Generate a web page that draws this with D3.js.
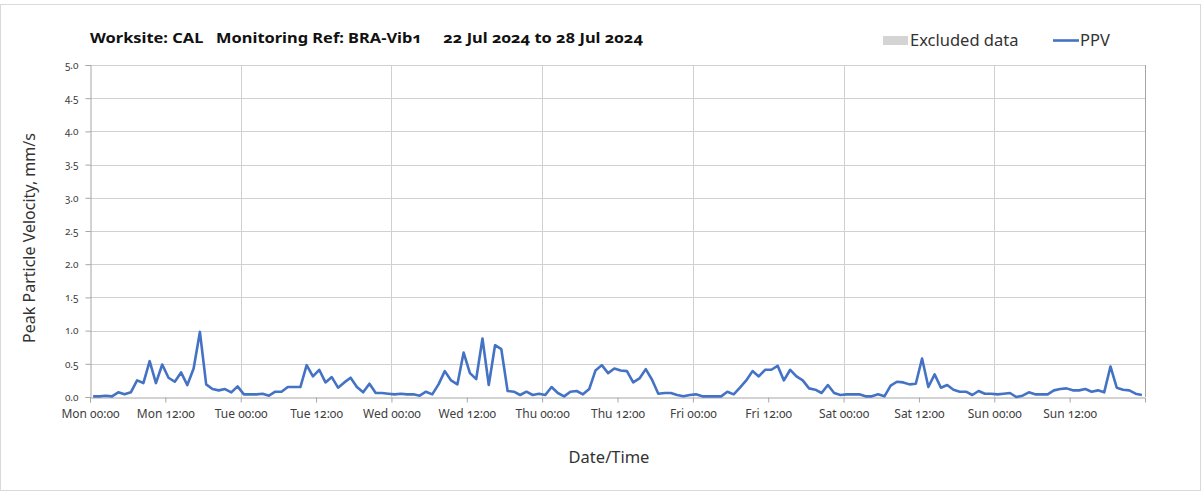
<!DOCTYPE html>
<html>
<head>
<meta charset="utf-8">
<script src="https://cdn.jsdelivr.net/npm/d3@7"></script>
<style>
  html, body { margin: 0; padding: 0; background: #fff; }
  svg { display: block; }
  text { font-family: "Noto Sans", "Open Sans", sans-serif; }
  .num { font-variant-numeric: oldstyle-nums; font-feature-settings: "onum" 1; }
</style>
</head>
<body>
<svg id="chart" width="1203" height="492"></svg>
<script>
// Hourly peak particle velocity (mm/s), Mon 22 Jul 2024 00:00 – Sun 28 Jul 2024 24:00
const ppv = [
  0.01, 0.01, 0.02, 0.01, 0.07, 0.04, 0.07, 0.25, 0.21, 0.54, 0.21, 0.49,
  0.29, 0.23, 0.37, 0.18, 0.43, 0.98, 0.19, 0.12, 0.10, 0.12, 0.07, 0.16,
  0.04, 0.04, 0.04, 0.05, 0.02, 0.08, 0.08, 0.15, 0.15, 0.15, 0.48, 0.31,
  0.41, 0.22, 0.30, 0.14, 0.22, 0.29, 0.15, 0.07, 0.20, 0.06, 0.06, 0.05,
  0.04, 0.05, 0.04, 0.04, 0.02, 0.08, 0.04, 0.19, 0.39, 0.25, 0.19, 0.67,
  0.36, 0.27, 0.88, 0.18, 0.78, 0.72, 0.09, 0.08, 0.03, 0.08, 0.03, 0.05,
  0.03, 0.15, 0.06, 0.01, 0.08, 0.09, 0.04, 0.12, 0.40, 0.48, 0.36, 0.43,
  0.40, 0.39, 0.22, 0.28, 0.42, 0.26, 0.05, 0.06, 0.06, 0.03, 0.01, 0.03,
  0.04, 0.01, 0.01, 0.01, 0.01, 0.08, 0.04, 0.14, 0.25, 0.39, 0.31, 0.41,
  0.41, 0.47, 0.25, 0.41, 0.31, 0.25, 0.13, 0.11, 0.06, 0.18, 0.06, 0.03,
  0.04, 0.04, 0.04, 0.01, 0.01, 0.04, 0.01, 0.17, 0.23, 0.22, 0.19, 0.20,
  0.58, 0.15, 0.34, 0.14, 0.18, 0.11, 0.08, 0.08, 0.03, 0.09, 0.05, 0.05,
  0.04, 0.05, 0.06, 0.00, 0.02, 0.07, 0.04, 0.04, 0.04, 0.10, 0.12, 0.13,
  0.10, 0.10, 0.12, 0.08, 0.10, 0.07, 0.46, 0.14, 0.11, 0.10, 0.05, 0.03
];

const xTickLabels = [
  "Mon 00:00", "Mon 12:00", "Tue 00:00", "Tue 12:00", "Wed 00:00", "Wed 12:00",
  "Thu 00:00", "Thu 12:00", "Fri 00:00", "Fri 12:00", "Sat 00:00", "Sat 12:00",
  "Sun 00:00", "Sun 12:00"
];
const yTicks = [0, 0.5, 1.0, 1.5, 2.0, 2.5, 3.0, 3.5, 4.0, 4.5, 5.0];

const titleText = "Worksite: CAL\u00a0\u00a0\u00a0Monitoring Ref: BRA-Vib1\u00a0\u00a0\u00a0\u00a0\u00a022 Jul 2024 to 28 Jul 2024";
const legendItems = ["Excluded data", "PPV"];

const HOUR = 3600e3;
const start = new Date(Date.UTC(2024, 6, 22));
const end = new Date(start.getTime() + 168 * HOUR);

// each hourly reading is plotted at the middle of its hour
const series = ppv.map((v, i) => ({ t: new Date(start.getTime() + (i + 0.5) * HOUR), v }));

const svg = d3.select("#chart");
const plot = { left: 90, right: 1145, top: 65, bottom: 397 };

const x = d3.scaleUtc().domain([start, end]).range([plot.left, plot.right]);
const y = d3.scaleLinear().domain([0, 5]).range([plot.bottom, plot.top]);

// outer frame
svg.append("rect")
  .attr("x", 0.5).attr("y", 4.5).attr("width", 1200).attr("height", 486)
  .attr("fill", "none").attr("stroke", "#d9d9d9");

// horizontal gridlines
svg.append("g").selectAll("line").data(yTicks.slice(1)).join("line")
  .attr("x1", plot.left).attr("x2", plot.right)
  .attr("y1", d => Math.round(y(d)) + 0.5).attr("y2", d => Math.round(y(d)) + 0.5)
  .attr("stroke", "#d0d0d0").attr("stroke-width", 1);

// daily vertical gridlines
const dayTicks = d3.utcDay.range(d3.utcDay.offset(start, 1), end);
svg.append("g").selectAll("line").data(dayTicks).join("line")
  .attr("x1", d => Math.round(x(d)) + 0.5).attr("x2", d => Math.round(x(d)) + 0.5)
  .attr("y1", plot.top).attr("y2", plot.bottom)
  .attr("stroke", "#d0d0d0").attr("stroke-width", 1);

// right edge of plot area
svg.append("line")
  .attr("x1", plot.right + 0.5).attr("x2", plot.right + 0.5)
  .attr("y1", plot.top).attr("y2", plot.bottom)
  .attr("stroke", "#a6a6a6");

// y axis
const yAxis = d3.axisLeft(y).tickValues(yTicks).tickSize(5).tickPadding(7)
  .tickFormat(d3.format(".1f"));
const gy = svg.append("g").attr("transform", `translate(${plot.left + 0.5},0)`).call(yAxis);
gy.select(".domain").attr("stroke", "#a6a6a6");
gy.selectAll(".tick line").attr("stroke", "#a6a6a6");
gy.selectAll(".tick text").attr("class", "num")
  .attr("fill", "#404040").style("font-size", "10px");

// x axis: ticks every 12 hours
const xTickValues = d3.utcHour.every(12).range(start, end);
const xAxis = d3.axisBottom(x).tickValues(xTickValues).tickSize(5).tickPadding(7)
  .tickFormat((d, i) => xTickLabels[i]);
const gx = svg.append("g").attr("transform", `translate(0,${plot.bottom + 0.5})`).call(xAxis);
gx.select(".domain").attr("stroke", "#a6a6a6");
gx.selectAll(".tick line").attr("stroke", "#a6a6a6");
gx.selectAll(".tick text").attr("class", "num")
  .attr("fill", "#404040").style("font-size", "12px");

// PPV line
svg.append("path")
  .datum(series)
  .attr("fill", "none")
  .attr("stroke", "#4472c4")
  .attr("stroke-width", 2.6)
  .attr("stroke-linejoin", "round")
  .attr("d", d3.line().x(d => x(d.t)).y(d => y(d.v)));

// title
svg.append("text")
  .attr("class", "num")
  .attr("x", 90).attr("y", 43)
  .attr("font-weight", "bold").attr("fill", "#111")
  .style("font-size", "15px")
  .attr("textLength", 553).attr("lengthAdjust", "spacingAndGlyphs")
  .text(titleText);

// legend
svg.append("rect").attr("x", 883).attr("y", 36).attr("width", 25).attr("height", 9)
  .attr("fill", "#d4d4d4");
svg.append("text").attr("x", 910).attr("y", 46).attr("fill", "#333")
  .style("font-size", "16.5px").text(legendItems[0]);
svg.append("line").attr("x1", 1053).attr("x2", 1079).attr("y1", 40.5).attr("y2", 40.5)
  .attr("stroke", "#4472c4").attr("stroke-width", 2.6);
svg.append("text").attr("x", 1080).attr("y", 46).attr("fill", "#333")
  .style("font-size", "16.5px").text(legendItems[1]);

// axis titles
svg.append("text")
  .attr("transform", "translate(35,238) rotate(-90)")
  .attr("text-anchor", "middle").attr("fill", "#333")
  .style("font-size", "16px")
  .text("Peak Particle Velocity, mm/s");
svg.append("text")
  .attr("x", 609).attr("y", 463).attr("text-anchor", "middle").attr("fill", "#333")
  .style("font-size", "16.5px")
  .text("Date/Time");
</script>
</body>
</html>
